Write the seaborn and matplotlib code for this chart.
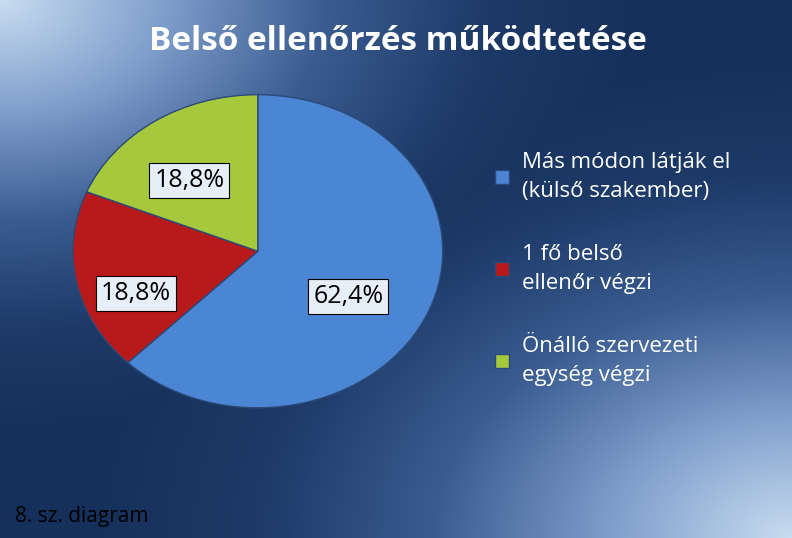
import numpy as np
import matplotlib
matplotlib.use("Agg")
import matplotlib.pyplot as plt
import seaborn as sns
from matplotlib.colors import LinearSegmentedColormap

sns.set_style("white")
plt.rcParams['font.family'] = ['Open Sans', 'DejaVu Sans']

categories = ["Más módon látják el\n(külső szakember)", "1 fő belső\nellenőr végzi", "Önálló szervezeti\negység végzi"]
values = [62.4, 18.8, 18.8]
labels = ["62,4%", "18,8%", "18,8%"]
colors = sns.color_palette(["#4a86d4", "#b8191a", "#a6c83c"])

fig = plt.figure(figsize=(7.92, 5.38), dpi=100)
bg = fig.add_axes([0, 0, 1, 1])
x = np.linspace(0, 1, 400)
y = np.linspace(0, 1, 300)
X, Y = np.meshgrid(x, y)
d = np.minimum(np.hypot(X, 1 - Y) * 1.1, np.hypot(1 - X, Y))
cmap = LinearSegmentedColormap.from_list("bg", ["#c8dcf0", "#7f9fcc", "#3a5c90", "#1d3a68", "#15305a"])
bg.imshow(np.clip(d / 0.9, 0, 1), cmap=cmap, aspect="auto", extent=[0, 1, 0, 1], origin="lower")
bg.axis("off")

ax = fig.add_axes([0.092, 0.242, 0.467, 0.582])
wedges, texts = ax.pie(values, colors=colors, startangle=90, counterclock=False,
                       wedgeprops=dict(edgecolor="#2c4a78", linewidth=1))
ax.set_aspect("auto")
ax.set_xlim(-1, 1)
ax.set_ylim(-1, 1)
pos = [(0.49, -0.29), (-0.66, -0.27), (-0.37, 0.45)]
for lab, (px, py) in zip(labels, pos):
    ax.text(px, py, lab, ha="center", va="center", fontsize=18, color="black",
            bbox=dict(boxstyle="square,pad=0.2", facecolor="#e6eef7", edgecolor="black", linewidth=0.8))

leg = fig.legend(wedges, categories, loc="upper left", bbox_to_anchor=(0.6, 0.755), frameon=False,
                 fontsize=16, labelcolor="white", handlelength=0.6, handleheight=0.6,
                 labelspacing=1.9, handletextpad=0.6)
for t in leg.get_texts():
    t.set_linespacing(1.5)

fig.text(0.502, 0.922, "Belső ellenőrzés működtetése", ha="center", va="center",
         fontsize=24, fontweight="bold", color="white")
fig.text(0.019, 0.04, "8. sz. diagram", ha="left", va="center", fontsize=15, color="black")

fig.savefig("out.png", dpi=100)
